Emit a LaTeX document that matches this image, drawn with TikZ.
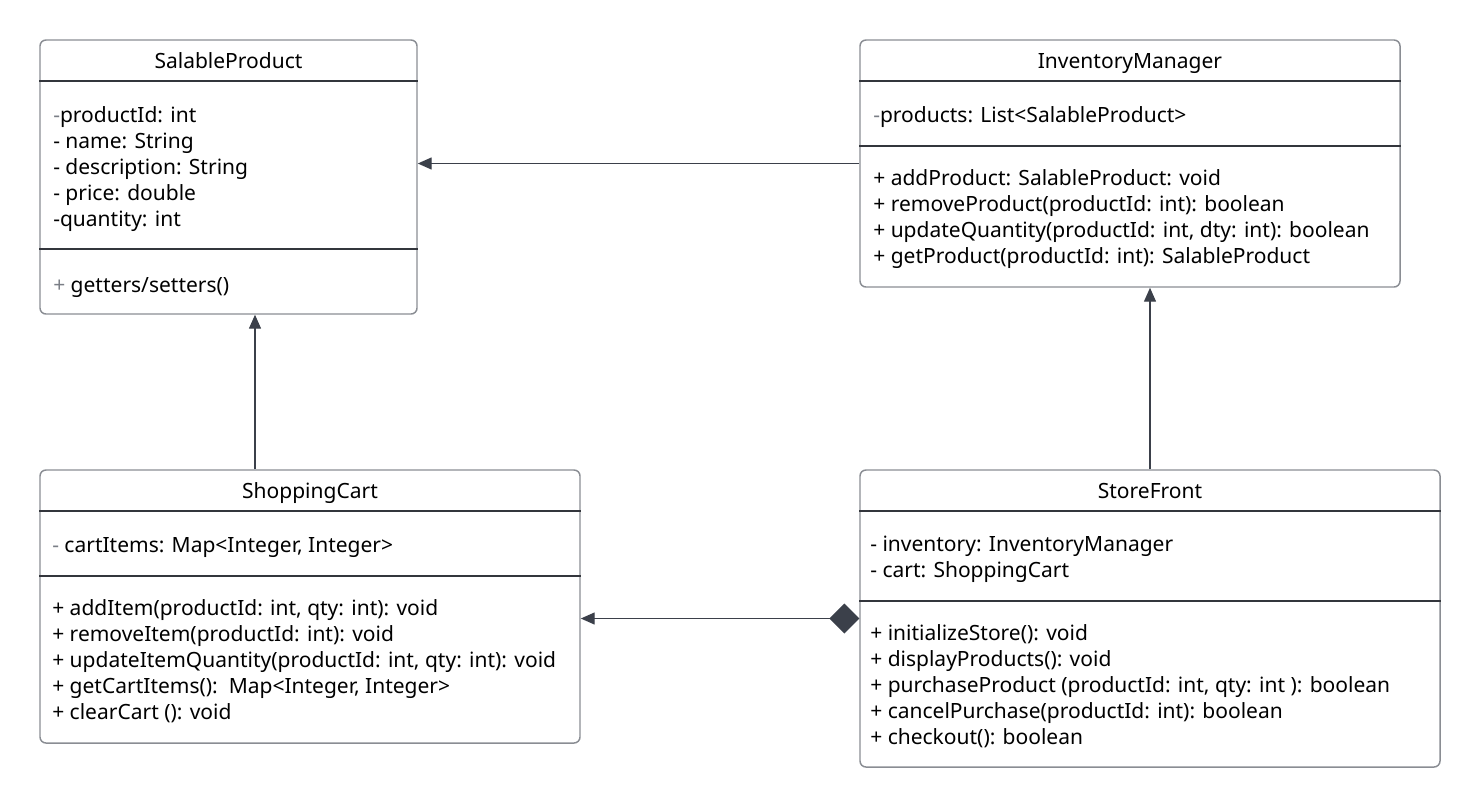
\documentclass[tikz,border=0pt]{standalone}
\usepackage{fontspec}
\setmainfont{Noto Sans}
\usetikzlibrary{arrows.meta,positioning}

\definecolor{edge}{HTML}{3B404A}
\definecolor{frame}{HTML}{8A8D93}
\definecolor{rule}{HTML}{33363C}
\definecolor{dim}{HTML}{7A7E86}

\begin{document}
\begin{tikzpicture}[x=0.75pt,y=-0.75pt,
    every node/.style={font=\fontsize{15.75pt}{19.5pt}\selectfont},
    classbox/.style={draw=frame,line width=1.1pt,rounded corners=4.5pt,inner sep=0pt},
    title/.style={inner sep=0pt,anchor=base},
    members/.style={inner sep=0pt,anchor=base west,align=left},
    sep/.style={draw=rule,line width=0.8pt},
    assoc/.style={draw=edge,line width=1.1pt,-{Triangle[length=10.5pt,width=9pt]}},
    comp/.style={draw=edge,line width=1.1pt,{Diamond[length=22.5pt,width=22.5pt]}-{Triangle[length=10.5pt,width=9pt]}}]
  \useasboundingbox (0,0) rectangle (1480,808);

  %% class boxes
  \node[classbox,minimum width=282.75pt,minimum height=205.5pt] (sp) at (228.5,177) {};
  \node[classbox,minimum width=405pt,minimum height=185.25pt] (im) at (1130,163.5) {};
  \node[classbox,minimum width=405pt,minimum height=204.75pt] (sc) at (310,606.5) {};
  \node[classbox,minimum width=435pt,minimum height=222.75pt] (sf) at (1150,618.5) {};

  %% separators
  \draw[sep] (sp.west |- 0,81) -- (sp.east |- 0,81);
  \draw[sep] (sp.west |- 0,249) -- (sp.east |- 0,249);
  \draw[sep] (im.west |- 0,81) -- (im.east |- 0,81);
  \draw[sep] (im.west |- 0,146) -- (im.east |- 0,146);
  \draw[sep] (sc.west |- 0,511) -- (sc.east |- 0,511);
  \draw[sep] (sc.west |- 0,576) -- (sc.east |- 0,576);
  \draw[sep] (sf.west |- 0,511) -- (sf.east |- 0,511);
  \draw[sep] (sf.west |- 0,601) -- (sf.east |- 0,601);

  %% SalableProduct (base anchor sits on the last line)
  \node[title] (spName) at (sp.center |- 0,68) {SalableProduct};
  \node[members] (spAttr) at (53,226) {{\color{dim}-}productId: int\\- name: String\\- description: String\\- price: double\\-quantity: int};
  \node[members] (spOps) at (53,292) {{\color{dim}+} getters/setters()};

  %% InventoryManager
  \node[title] (imName) at (im.center |- 0,68) {InventoryManager};
  \node[members] (imAttr) at (873,122) {{\color{dim}-}products: List<SalableProduct>};
  \node[members] (imOps) at (873,263) {+ addProduct: SalableProduct: void\\+ removeProduct(productId: int): boolean\\+ updateQuantity(productId: int, dty: int): boolean\\+ getProduct(productId: int): SalableProduct};

  %% ShoppingCart
  \node[title] (scName) at (sc.center |- 0,498) {ShoppingCart};
  \node[members] (scAttr) at (52,552) {{\color{dim}-} cartItems: Map<Integer, Integer>};
  \node[members] (scOps) at (52,719) {+ addItem(productId: int, qty: int): void\\+ removeItem(productId: int): void\\+ updateItemQuantity(productId: int, qty: int): void\\+ getCartItems():\ \ Map<Integer, Integer>\\+ clearCart (): void};

  %% StoreFront
  \node[title] (sfName) at (sf.center |- 0,498) {StoreFront};
  \node[members] (sfAttr) at (870,577) {- inventory: InventoryManager\\- cart: ShoppingCart};
  \node[members] (sfOps) at (870,744) {+ initializeStore(): void\\+ displayProducts(): void\\+ purchaseProduct (productId: int, qty: int ): boolean\\+ cancelPurchase(productId: int): boolean\\+ checkout(): boolean};

  %% relations
  \coordinate (cartUp) at (255,0);
  \draw[assoc] (im.west) -- (im.west -| sp.east);
  \draw[assoc] (sc.north -| cartUp) -- (sp.south -| cartUp);
  \draw[assoc] (sf.north) -- (sf.north |- im.south);
  \draw[comp] (sf.west) -- (sf.west -| sc.east);
\end{tikzpicture}
\end{document}
